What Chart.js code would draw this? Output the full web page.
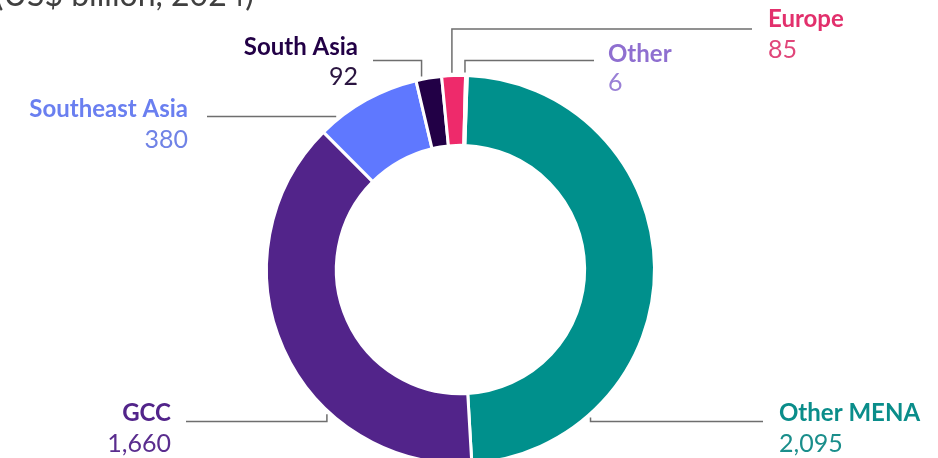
<!DOCTYPE html>
<html><head><meta charset="utf-8">
<script src="https://cdn.jsdelivr.net/npm/chart.js@4.4.1/dist/chart.umd.min.js"></script>
<style>
html,body{margin:0;padding:0;background:#fff;overflow:hidden;width:938px;height:458px}
#wrap{position:absolute;left:0;top:0;width:938px;height:540px}
</style></head><body><div id="wrap"><canvas id="c"></canvas></div>
<script>
// ---- data ----
const categories = ["Other MENA", "GCC", "Southeast Asia", "South Asia", "Europe", "Other"];
const values = [2095, 1660, 380, 92, 85, 6];
const valueLabels = ["2,095", "1,660", "380", "92", "85", "6"];
const titleText = "(US$ billion, 2024)";

// ---- styles ----
const sliceColors = ["#00908c", "#52248a", "#5f78ff", "#220046", "#ee2a6b", "#9b7fe0"];
const nameColors  = ["#0a8d8a", "#52248a", "#6a7ff0", "#220046", "#e2306c", "#8f6fd0"];
const valueColors = ["#1a8e8b", "#5a2d8e", "#7083e6", "#2a1440", "#e0467a", "#9a80d6"];

// label layout: side, text x, name baseline, value baseline, leader start x, elbow y, anchor angle (deg clockwise from top)
const labelLayout = [
  {align:"left",  x:779, nameY:421, valY:452, lx:763, ey:421.5, ang:138.7},
  {align:"right", x:171, nameY:421, valY:452, lx:186, ey:421.5, ang:222.7},
  {align:"right", x:188, nameY:117, valY:148, lx:207, ey:116.5, ang:320.6},
  {align:"right", x:358, nameY:55,  valY:85,  lx:373, ey:60.5,  ang:348.6},
  {align:"left",  x:768, nameY:27,  valY:58,  lx:752, ey:29,    ang:357.5},
  {align:"left",  x:608, nameY:62,  valY:91,  lx:594, ey:60.5,  ang:1.3}
];

const annotate = {
  id: "annotate",
  afterDraw(chart) {
    const ctx = chart.ctx;
    const arc = chart.getDatasetMeta(0).data[0];
    const cx = arc.x, cy = arc.y, R = arc.outerRadius + 3;
    ctx.save();
    // title fragment (cropped at the top in the original)
    ctx.font = "400 32px Lato";
    ctx.fillStyle = "#404040";
    ctx.textAlign = "left";
    ctx.textBaseline = "alphabetic";
    ctx.fillText(titleText, -5, 6);
    // leaders and labels
    ctx.strokeStyle = "#6e6e6e";
    ctx.lineWidth = 1.5;
    labelLayout.forEach((L, i) => {
      const a = L.ang * Math.PI / 180;
      const ax = cx + R * Math.sin(a), ay = cy - R * Math.cos(a);
      ctx.beginPath();
      ctx.moveTo(L.lx, L.ey);
      ctx.lineTo(ax, L.ey);
      ctx.lineTo(ax, ay);
      ctx.stroke();
      ctx.textAlign = L.align;
      ctx.font = "700 24px Lato";
      ctx.fillStyle = nameColors[i];
      ctx.fillText(categories[i], L.x, L.nameY);
      ctx.font = "400 25px Lato";
      ctx.fillStyle = valueColors[i];
      ctx.fillText(valueLabels[i], L.x, L.valY);
    });
    ctx.restore();
  }
};

new Chart(document.getElementById("c"), {
  type: "doughnut",
  data: {
    labels: categories,
    datasets: [{
      data: values,
      backgroundColor: sliceColors,
      borderColor: "#ffffff",
      borderWidth: 3,
      hoverBorderWidth: 3,
      hoverOffset: 0
    }]
  },
  options: {
    responsive: true,
    maintainAspectRatio: false,
    animation: false,
    rotation: 2,
    cutout: "64%",
    layout: {padding: {left: 265, right: 282, top: 74, bottom: 75}},
    plugins: {legend: {display: false}, tooltip: {enabled: false}}
  },
  plugins: [annotate]
});
</script>
</body></html>
